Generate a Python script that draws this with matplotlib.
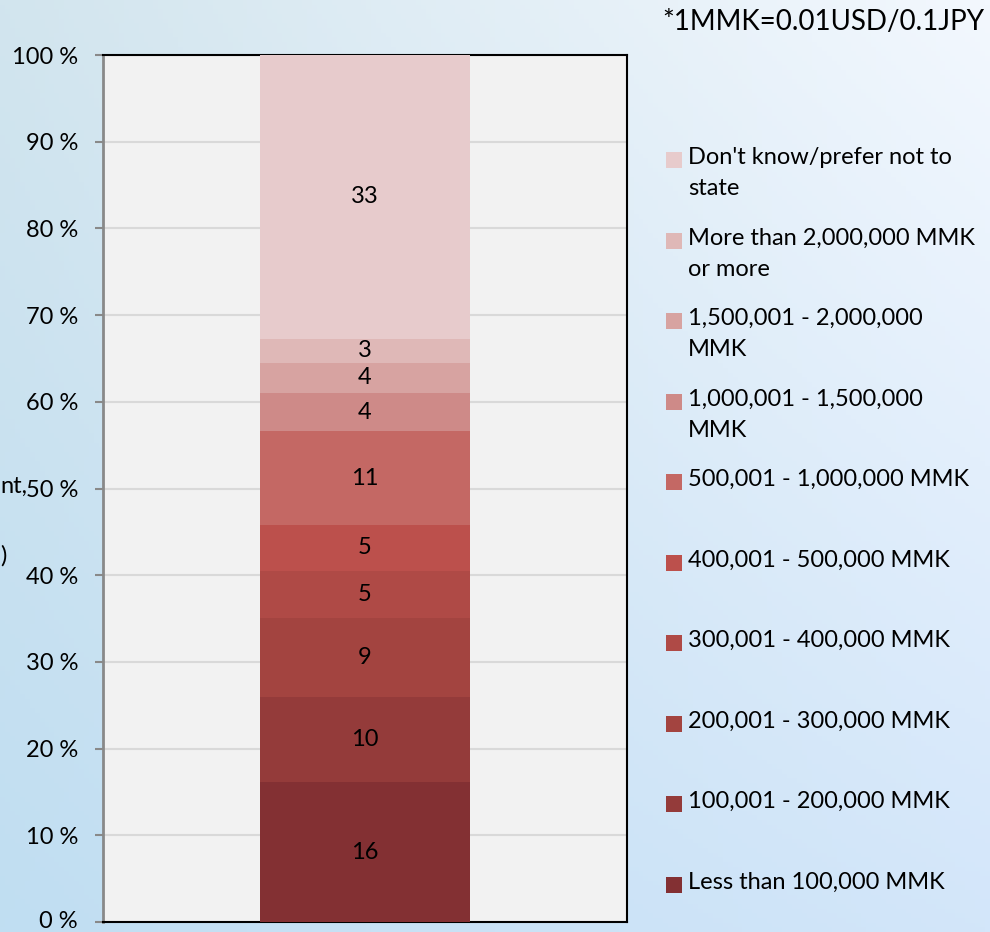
import numpy as np
import matplotlib
matplotlib.use("Agg")
import matplotlib.pyplot as plt
from matplotlib.patches import Rectangle
from matplotlib.transforms import ScaledTranslation

# ---- data (bottom to top) ----
categories = [
    "Less than 100,000 MMK",
    "100,001 - 200,000 MMK",
    "200,001 - 300,000 MMK",
    "300,001 - 400,000 MMK",
    "400,001 - 500,000 MMK",
    "500,001 - 1,000,000 MMK",
    "1,000,001 - 1,500,000\nMMK",
    "1,500,001 - 2,000,000\nMMK",
    "More than 2,000,000 MMK\nor more",
    "Don't know/prefer not to\nstate",
]
values = [16.1, 9.8, 9.2, 5.4, 5.3, 10.8, 4.4, 3.5, 2.8, 32.7]
colors = ["#833033", "#943b3a", "#a34440", "#af4a46", "#bc504c",
          "#c46864", "#ce8a88", "#d7a3a1", "#dfb8b7", "#e7cbcc"]
yticks = [0, 10, 20, 30, 40, 50, 60, 70, 80, 90, 100]
ytick_labels = [f"{t} %" for t in yticks]
note = "*1MMK=0.01USD/0.1JPY"
axis_title_fragments = ["nt,", ")"]

FONT = "Lato"
plt.rcParams["font.family"] = [FONT, "DejaVu Sans"]

W, H = 990, 932
fig = plt.figure(figsize=(W / 100, H / 100), dpi=100)

# ---- background gradient ----
bg = fig.add_axes([0, 0, 1, 1], zorder=-10)
bg.set_axis_off()
nx, ny = 200, 200
xx = np.linspace(0, 1, nx)[None, :, None]
yy = np.linspace(0, 1, ny)[:, None, None]  # 0 top, 1 bottom
tl = np.array([0xd2, 0xe5, 0xee]) / 255
tr = np.array([0xf3, 0xf8, 0xfe]) / 255
bl = np.array([0xc0, 0xde, 0xf2]) / 255
br = np.array([0xd3, 0xe6, 0xfa]) / 255
img = (tl * (1 - xx) * (1 - yy) + tr * xx * (1 - yy)
       + bl * (1 - xx) * yy + br * xx * yy)
bg.imshow(img, aspect="auto", extent=[0, 1, 0, 1], origin="upper")
bg.set_xlim(0, 1)
bg.set_ylim(0, 1)

# ---- main axes ----
ax = fig.add_axes([103 / W, 10 / H, 524 / W, 867 / H])
ax.set_facecolor("#f2f2f2")
bottom = 0.0
for v, c in zip(values, colors):
    ax.bar(0, v, width=0.8, bottom=bottom, color=c, zorder=3, linewidth=0)
    ax.text(0, bottom + v / 2, f"{v:.0f}", ha="center", va="center",
            fontsize=17, color="black", zorder=4)
    bottom += v

ax.set_xlim(-1, 1)
ax.set_ylim(0, 100)
ax.set_xticks([])
ax.set_yticks(yticks)
ax.set_yticklabels(ytick_labels, fontsize=17)
ax.tick_params(axis="y", length=6, width=1.5, color="#898989", pad=12)
ax.yaxis.grid(True, color="#d9d9d9", linewidth=1.5, zorder=0)
ax.set_axisbelow(True)
for side in ["top", "right", "bottom"]:
    ax.spines[side].set_color("black")
    ax.spines[side].set_linewidth(1.5)
ax.spines["left"].set_color("#898989")
ax.spines["left"].set_linewidth(2)

# nudge the 0 % label up slightly so it stays inside the figure
lbl0 = ax.get_yticklabels()[0]
lbl0.set_transform(lbl0.get_transform() + ScaledTranslation(0, 3 / 100, fig.dpi_scale_trans))

# ---- note ----
fig.text(662 / W, 1 - 22 / H, note, fontsize=20, ha="left", va="center")

# ---- legend (manual, top entry first) ----
y0 = 160
step = 80.5
for i, (cat, c) in enumerate(zip(categories[::-1], colors[::-1])):
    yc = y0 + i * step
    fig.patches.append(Rectangle((666 / W, 1 - (yc + 8) / H), 16 / W, 16 / H,
                                 transform=fig.transFigure, facecolor=c,
                                 edgecolor="none"))
    fig.text(688 / W, 1 - (yc - 13) / H, cat, fontsize=17, ha="left",
             va="top", linespacing=1.6)

# ---- visible fragments of the (cropped) axis title ----
fig.text(27 / W, 1 - 486 / H, axis_title_fragments[0], fontsize=17,
         ha="right", va="center")
fig.text(0.5 / W, 1 - 556 / H, axis_title_fragments[1], fontsize=17,
         ha="left", va="center")

fig.savefig("out.png", dpi=100)
